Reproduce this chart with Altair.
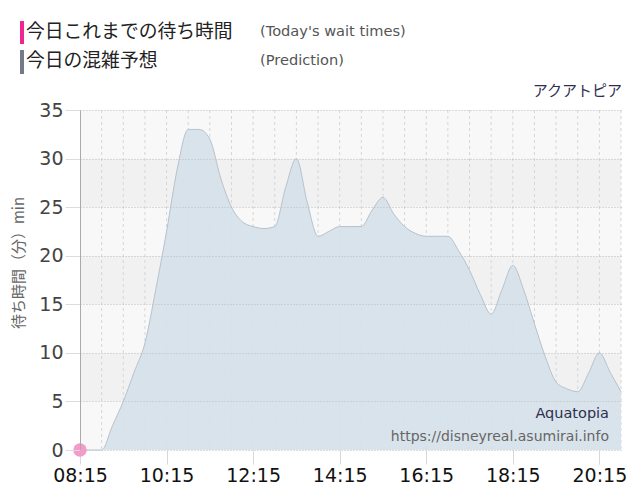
import pandas as pd
import altair as alt

# 予想待ち時間（15分刻み 08:15〜20:45）
pred_times = [f"{(495 + 15 * i) // 60:02d}:{(495 + 15 * i) % 60:02d}" for i in range(51)]
pred_wait = [
    0, 0, 0, 2.5, 5, 8, 11, 16.5, 22.5, 29,
    33, 33, 32, 28, 25, 23.5, 23, 22.8, 23, 27,
    30, 25.5, 22, 22.5, 23, 23, 23, 24.7, 26, 24.3,
    23, 22.3, 22, 22, 22, 20.5, 18.5, 16, 14, 16.5,
    19, 16.5, 13, 9.6, 7, 6.3, 6, 7.9, 10, 8,
    6,
]

# 今日これまでの実績
actual_times = ["08:15"]
actual_wait = [0]

tick_times = ["08:15", "10:15", "12:15", "14:15", "16:15", "18:15", "20:15"]
y_ticks = [0, 5, 10, 15, 20, 25, 30, 35]
band_lo = [25, 15, 5]
band_hi = [30, 20, 10]

legend_ja = ["今日これまでの待ち時間", "今日の混雑予想"]
legend_en = ["(Today's wait times)", "(Prediction)"]
attraction = "アクアトピア"
attraction_en = "Aquatopia"
site_url = "https://disneyreal.asumirai.info"
y_title = "待ち時間（分）min"


def to_hours(s):
    h, m = s.split(":")
    return int(h) + int(m) / 60


pred = pd.DataFrame({"h": [to_hours(t) for t in pred_times], "wait": pred_wait})
actual = pd.DataFrame({"h": [to_hours(t) for t in actual_times], "wait": actual_wait})
bands = pd.DataFrame({"lo": band_lo, "hi": band_hi})
half_hours = pd.DataFrame({"h": [8.25 + 0.5 * k for k in range(1, 26)]})
one = pd.DataFrame({"_": [0]})

W, H = 541, 340
xs = alt.Scale(domain=[8.25, 20.75], nice=False, zero=False)
ys = alt.Scale(domain=[0, 35], nice=False)

label_expr = (
    "(floor(datum.value) < 10 ? '0' : '') + floor(datum.value) + ':' + "
    "(round(datum.value % 1 * 60) < 10 ? '0' : '') + round(datum.value % 1 * 60)"
)

# 軸は全レイヤー共通のものを使う
x_axis = alt.Axis(
    values=[to_hours(t) for t in tick_times],
    labelExpr=label_expr,
    title=None,
    grid=False,
    domain=False,
    tickSize=14,
    tickColor="#d8d8d8",
    labelFontSize=19,
    labelFont="DejaVu Sans",
    labelColor="#111111",
    labelPadding=2,
    labelFlush=False,
)
y_axis = alt.Axis(
    values=y_ticks,
    title=None,
    grid=True,
    gridDash=[1, 2],
    gridColor="#bdbdbd",
    tickSize=15,
    tickColor="#dddddd",
    domainColor="#aaaaaa",
    labelFontSize=19,
    labelFont="DejaVu Sans",
    labelColor="#444444",
    labelPadding=2,
    zindex=1,
)

band_layer = alt.Chart(bands).mark_rect(color="#f1f1f1").encode(
    y=alt.Y("lo:Q", scale=ys, axis=y_axis),
    y2="hi:Q",
    x=alt.value(0),
    x2=alt.value(W),
)

vrules = alt.Chart(half_hours).mark_rule(color="#d6d6d6", strokeDash=[3, 3]).encode(
    x=alt.X("h:Q", scale=xs, axis=x_axis)
)

area = alt.Chart(pred).mark_area(
    color="#d6e1e9",
    opacity=0.93,
    interpolate="monotone",
    line={"color": "#b7c2cc", "strokeWidth": 1},
).encode(
    x=alt.X("h:Q", scale=xs, axis=x_axis),
    y=alt.Y("wait:Q", scale=ys, axis=y_axis),
)

dot = alt.Chart(actual).mark_circle(size=180, color="#f49bc9", opacity=1).encode(
    x=alt.X("h:Q", scale=xs, axis=x_axis),
    y=alt.Y("wait:Q", scale=ys, axis=y_axis),
)


def txt(s, x, y, size, color, font="DejaVu Sans", align="left", angle=0):
    return alt.Chart(one).mark_text(
        text=s, align=align, baseline="middle", fontSize=size, color=color, font=font, angle=angle
    ).encode(x=alt.value(x), y=alt.value(y))


def bar(x, y, y2, color):
    return alt.Chart(one).mark_rect(color=color).encode(
        x=alt.value(x), x2=alt.value(x + 4), y=alt.value(y), y2=alt.value(y2)
    )


header = [
    bar(-60, -89, -66, "#f0258f"),
    bar(-60, -60, -36, "#737987"),
    txt(legend_ja[0], -54, -78, 18.8, "#222222", font="Noto Sans CJK JP"),
    txt(legend_ja[1], -54, -49, 18.8, "#222222", font="Noto Sans CJK JP"),
    txt(legend_en[0], 180, -78, 14.6, "#555555"),
    txt(legend_en[1], 180, -49, 14.6, "#555555"),
    txt(attraction, 542, -19, 15, "#2e2e4e", font="Noto Sans CJK JP", align="right"),
    txt(attraction_en, 529, 304, 14.5, "#2e2e4e", align="right"),
    txt(site_url, 529, 327, 14, "#666666", align="right"),
    txt(y_title, -61, 153, 15, "#666666", font="Noto Sans CJK JP", align="center", angle=270),
]

chart = (
    alt.layer(band_layer, vrules, area, dot, *header)
    .properties(
        width=W,
        height=H,
        autosize=alt.AutoSizeParams(type="none"),
        padding={"left": 72, "top": 102, "right": 10, "bottom": 40},
    )
    .configure_view(fill="#f8f8f8", stroke=None)
)

chart.save("out.html", embed_options={"renderer": "svg", "actions": False})
